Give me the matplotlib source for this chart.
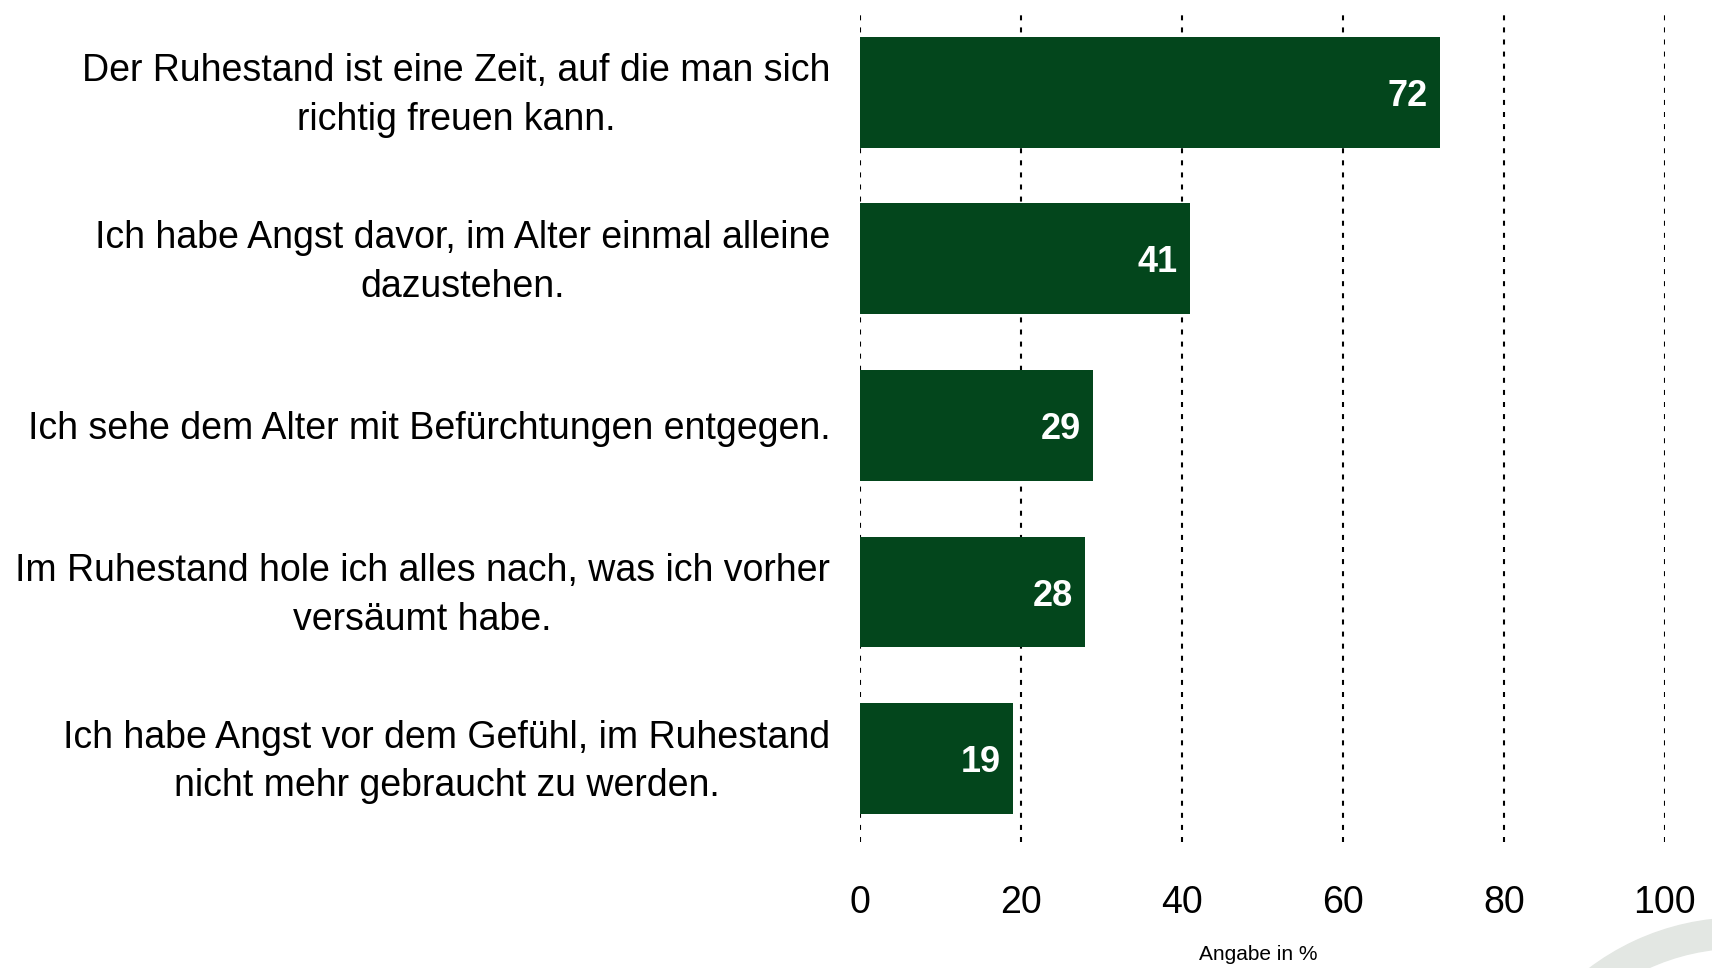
import matplotlib
matplotlib.use("Agg")
import matplotlib.pyplot as plt
from matplotlib.patches import Wedge

plt.rcParams['font.family'] = ['Liberation Sans', 'DejaVu Sans']

labels = [
    "Der Ruhestand ist eine Zeit, auf die man sich\nrichtig freuen kann.",
    "Ich habe Angst davor, im Alter einmal alleine\ndazustehen.",
    "Ich sehe dem Alter mit Befürchtungen entgegen.",
    "Im Ruhestand hole ich alles nach, was ich vorher\nversäumt habe.",
    "Ich habe Angst vor dem Gefühl, im Ruhestand\nnicht mehr gebraucht zu werden.",
]
values = [72, 41, 29, 28, 19]
xticks = [0, 20, 40, 60, 80, 100]

green = '#03461c'

fig = plt.figure(figsize=(17.12, 9.68), dpi=100)
ax = fig.add_axes([0.5023, 0.1302, 0.4702, 0.8605])

ypos = list(range(len(values)))
ax.barh(ypos, values, height=0.665, color=green, zorder=2)
ax.set_ylim(len(values) - 0.5, -0.5)
ax.set_xlim(0, 100)

for x in xticks:
    ax.axvline(x, color='black', lw=1.5, linestyle=(0, (2.4, 3.4)), zorder=1)

for y, v in zip(ypos, values):
    ax.text(v - 1.5, y, str(v), ha='right', va='center_baseline', color='white',
            fontsize=26, fontweight='bold', zorder=3)

ax.set_yticks(ypos)
ax.set_yticklabels([])
for y, lab in zip(ypos, labels):
    ax.text(-3.7, y + 0.02, lab, ha='right', va='center', multialignment='center',
            fontsize=27, linespacing=1.46)

ax.set_xticks(xticks)
ax.set_xticklabels([str(t) for t in xticks], fontsize=27)
ax.tick_params(axis='both', length=0)
ax.tick_params(axis='x', pad=31)
for s in ax.spines.values():
    s.set_visible(False)

fig.text(1258 / 1712, 1 - 955 / 968, "Angabe in %", ha='center', va='center',
         fontsize=15)

# faint swoosh in the lower right corner
fig.patches.append(Wedge((17.40, -2.00), 2.5, 40, 140, width=0.3,
                         transform=fig.dpi_scale_trans, color='#e3e7e3',
                         zorder=0))

fig.savefig('out.png', dpi=100)
